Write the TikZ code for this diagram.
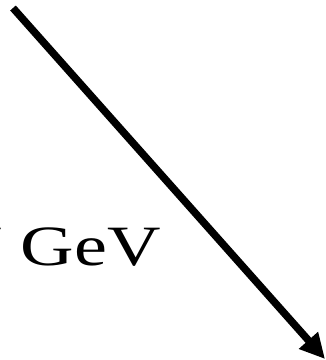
\documentclass[tikz,border=0pt]{standalone}
\usepackage{fontspec}
\setmainfont{Liberation Serif}
\usetikzlibrary{arrows.meta}

\begin{document}
\begin{tikzpicture}[x=1pt,y=-1pt,>={Triangle[length=25pt,width=24pt]}]
  \useasboundingbox (0,0) rectangle (326,360);
  \coordinate (start) at (13,8);
  \coordinate (tip) at (325,359);
  \draw[->,line width=7.5pt] (start) -- (tip);
  \node[anchor=base east,inner sep=0pt,xscale=1.3,
        font=\fontsize{57}{60}\selectfont] (energy) at (161,265) {V GeV};
\end{tikzpicture}
\end{document}
